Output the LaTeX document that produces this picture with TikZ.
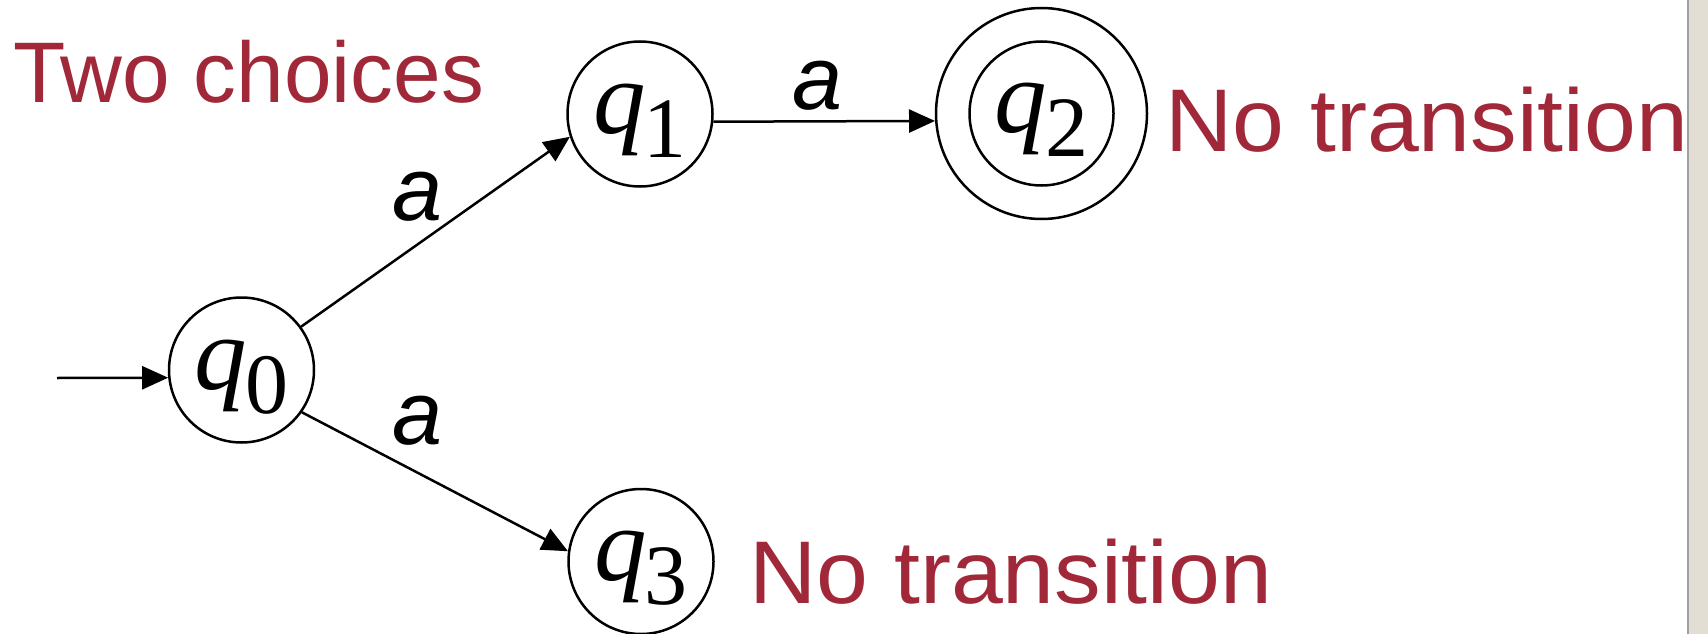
\documentclass[tikz,border=0pt]{standalone}
\usepackage{fontspec}
\setmainfont{Liberation Serif}
\newfontfamily\labfont{Liberation Sans}
\usetikzlibrary{arrows.meta}
\definecolor{txtred}{RGB}{160,40,56}
\definecolor{sidebar}{RGB}{227,222,211}
\definecolor{sideline}{RGB}{160,160,160}
\newcommand{\qsub}[1]{\raisebox{-19pt}[0pt][0pt]{{\fontsize{105}{105}\selectfont\itshape q}\kern-2pt\raisebox{-24pt}{\fontsize{86}{86}\selectfont #1}}}
\begin{document}
\begin{tikzpicture}[x=1pt,y=-1pt,
  state/.style={circle,draw,line width=2.5pt,minimum size=145pt,inner sep=0pt},
  edge/.style={line width=2.5pt,-{Triangle[length=26pt,width=23pt]}},
  lab/.style={font=\labfont\fontsize{90}{90}\selectfont\itshape,inner sep=0pt},
  note/.style={text=txtred,font=\labfont,inner sep=0pt,anchor=base west}]
\useasboundingbox (0,0) rectangle (1708,634);
\fill[white] (0,0) rectangle (1708,634);
\fill[sidebar] (1689,0) rectangle (1708,634);
\draw[sideline,line width=2pt] (1688,0) -- (1688,634);

\node[state] (q0) at (241.5,370) {\qsub{0}};
\node[state] (q1) at (640,114) {\qsub{1}};
\node[state,minimum size=211pt] (q2) at (1041.5,113.5) {\qsub{2}};
\draw[line width=2.5pt] (q2.center) circle[radius=72pt];
\node[state] (q3) at (641,561.5) {\qsub{3}};

\coordinate (init) at (57,378);
\draw[edge] (init) -- (q0.186);
\draw[edge] (q0.36.6) -- (q1.198.4);
\draw[edge] (q0.325) -- (q3.172.6);
\draw[edge] (q1.354.5) -- (q2.184.6);

\node[lab] (a1) at (418,197) {a};
\node[lab] (a2) at (818,86) {a};
\node[lab] (a3) at (418,421) {a};

\node[note] (t1) at (13,102) {\fontsize{86}{86}\selectfont\scalebox{0.995}[1]{Two choices}};
\node[note] (t2) at (1165,151) {\fontsize{89}{89}\selectfont\scalebox{1.047}[1]{No transition}};
\node[note] (t3) at (749,603) {\fontsize{89}{89}\selectfont\scalebox{1.047}[1]{No transition}};
\end{tikzpicture}
\end{document}
